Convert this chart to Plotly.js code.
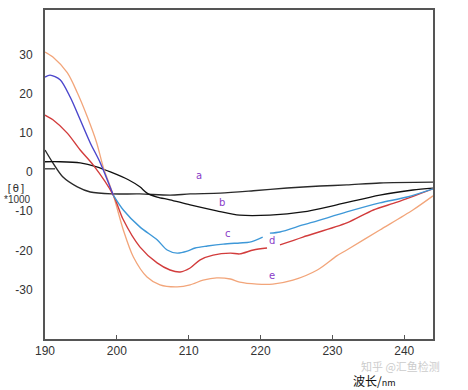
<!DOCTYPE html>
<html>
<head>
<meta charset="utf-8">
<script src="https://cdn.plot.ly/plotly-3.0.1.min.js"></script>
<style>html,body{margin:0;padding:0;background:#fff;}#chart{width:468px;height:390px;}</style>
</head>
<body>
<div id="chart"></div>
<script>
// Curve a (black)
const aX = [190,191.1,192.5,194.5,196.3,199.3,203.2,207.4,210.2,214.4,219,223.7,228.3,232,236.6,244];
const aY = [5.6,2.3,-1.3,-3.8,-5.1,-5.6,-5.6,-5.9,-5.6,-5.4,-4.8,-4.1,-3.6,-3.3,-2.8,-2.6];
// Curve b (black)
const bX = [190,192.1,194.9,197.2,199.1,201.6,203.2,204.2,205.6,207.4,210.2,213.9,217.1,221.3,225.9,230.6,236.6,241.2,244];
const bY = [2.6,2.6,2.3,1.3,0,-2.0,-3.8,-5.4,-6.4,-7.1,-8.4,-9.9,-11.0,-11.0,-10.2,-8.4,-5.9,-4.6,-4.1];
// Curve c (blue): upper and lower parts
const cUpperX = [190,190.7,192.1,193.5,194.9,196.3,197.7,199.5];
const cUpperY = [24.2,24.7,23.5,19.1,13.3,7.4,2.3,-5.9];
const cLowerX = [199.5,200.9,203.2,205.6,207,208.4,209.8,210.9,212.6,214.8,217.1,218.5,220.3,220.8,221.3,222.7,225.9,227.3,232,236.6,240.4,244];
const cLowerY = [-5.9,-9.7,-14.0,-17.3,-19.9,-20.7,-20.2,-19.4,-18.9,-18.4,-18.1,-17.9,-16.6,null,-15.6,-15.3,-13.5,-12.8,-10.2,-7.9,-6.4,-4.3];
// Curve d (red)
const dX = [190,191.1,193.1,194.9,196.7,199.5,200.9,203.2,205.6,207.4,208.8,210.2,211.6,213.4,215.8,217.1,219,220.9,221.8,222.7,225.9,232,235.7,239,244];
const dY = [14.5,13.3,9.9,5.6,1.8,-5.9,-12.2,-19.1,-23.2,-25.0,-25.5,-24.5,-22.4,-21.2,-20.7,-20.9,-19.9,-19.4,null,-18.6,-16.6,-13.0,-9.7,-7.7,-4.3];
// Curve e (orange)
const eX = [190,191.1,193.1,194.5,195.9,197.2,198.1,199.5,200.9,202.3,204.2,206,208.4,210.2,212,213.9,215.8,217.1,219.5,221.7,224.5,227.9,230.6,232,236.6,241.2,244];
const eY = [30.6,29.3,25.3,20.2,14.0,7.4,1.3,-5.9,-14.8,-21.7,-26.8,-28.8,-29.3,-28.8,-27.6,-27.0,-27.3,-28.1,-28.6,-28.6,-27.6,-25.0,-21.4,-19.9,-14.8,-9.7,-6.1];

// Curve labels
const curveLabels = ['a','b','c','d','e'];
const labelX = [211.4,214.6,215.5,221.6,221.6];
const labelY = [-1.0,-7.9,-15.6,-17.6,-26.5];

const xTicks = [190,200,210,220,230,240];
const yTicks = [-30,-20,-10,0,10,20,30];

function line(x, y, color, width) {
  return {x: x, y: y, type: 'scatter', mode: 'lines',
    line: {color: color, width: width, shape: 'spline', smoothing: 0.8},
    hoverinfo: 'skip', connectgaps: false};
}

const traces = [
  line(aX, aY, '#2a2a2a', 1.4),
  line(bX, bY, '#111111', 1.3),
  line(eX, eY, '#f2a57a', 1.3),
  line(dX, dY, '#d23c3c', 1.4),
  line(cUpperX, cUpperY, '#4b46cc', 1.4),
  line(cLowerX, cLowerY, '#3e98d8', 1.4)
];

const annotations = curveLabels.map((t, i) => ({
  x: labelX[i], y: labelY[i], xref: 'x', yref: 'y', text: t, showarrow: false,
  font: {family: 'DejaVu Sans', size: 10, color: '#8a3cc8'}
}));

annotations.push({xref: 'paper', yref: 'paper', x: -0.106, y: 0.456, text: '[θ]',
  showarrow: false, xanchor: 'left', yanchor: 'middle',
  font: {family: 'DejaVu Sans Mono', size: 11, color: '#333'}});
annotations.push({xref: 'paper', yref: 'paper', x: -0.11, y: 0.423, text: '*1000',
  showarrow: false, xanchor: 'left', yanchor: 'middle',
  font: {family: 'Liberation Sans', size: 10, color: '#333'}});
annotations.push({xref: 'paper', yref: 'paper', x: 0.915, y: -0.082, text: '知乎 @汇鱼检测',
  showarrow: false, xanchor: 'center', yanchor: 'middle',
  font: {family: 'Noto Sans CJK SC', size: 11, color: '#cccccc'}});
annotations.push({xref: 'paper', yref: 'paper', x: 0.848, y: -0.125, text: '波长/<span style="font-size:9px">nm</span>',
  showarrow: false, xanchor: 'center', yanchor: 'middle',
  font: {family: 'Noto Sans CJK SC', size: 12, color: '#111'}});

const layout = {
  width: 468, height: 390,
  margin: {l: 45, r: 35, t: 10, b: 51, pad: 0},
  paper_bgcolor: '#fff', plot_bgcolor: '#fff',
  showlegend: false,
  xaxis: {range: [190, 244], tickvals: xTicks, ticktext: xTicks.map(String),
    showgrid: false, zeroline: false, showline: true, mirror: true,
    linecolor: '#555', linewidth: 2, ticks: 'inside', ticklen: 4, tickcolor: '#555',
    tickfont: {family: 'Liberation Sans', size: 12, color: '#333'}},
  yaxis: {range: [-42.6, 41.3], tickvals: yTicks, ticktext: yTicks.map(String),
    showgrid: false, zeroline: false, showline: true, mirror: true,
    linecolor: '#555', linewidth: 2, ticks: '', ticklabelstandoff: 8,
    tickfont: {family: 'Liberation Sans', size: 12, color: '#333'}},
  shapes: [{type: 'line', xref: 'paper', yref: 'y', x0: 0, x1: 0.026, y0: 0.8, y1: 0.8,
    line: {color: '#333', width: 1.3}}],
  annotations: annotations
};

Plotly.newPlot('chart', traces, layout, {staticPlot: true, displayModeBar: false});
</script>
</body>
</html>
